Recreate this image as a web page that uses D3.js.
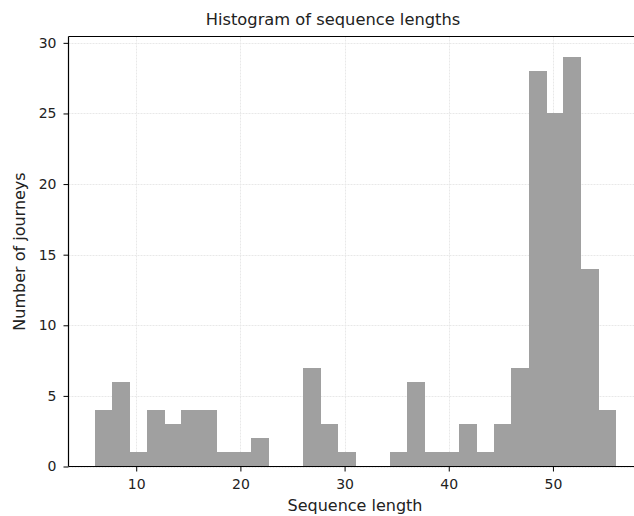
<!DOCTYPE html>
<html>
<head>
<meta charset="utf-8">
<script src="https://cdn.jsdelivr.net/npm/d3@7"></script>
<style>
  body { margin: 0; background: #fff; }
  text { font-family: "DejaVu Sans", sans-serif; fill: #222; }
</style>
</head>
<body>
<svg id="chart" width="634" height="516"></svg>
<script>
// histogram counts, 30 equal bins from binStart to binEnd
var binStart = 6;
var binEnd = 56;
var counts = [4, 6, 1, 4, 3, 4, 4, 1, 1, 2, 0, 0, 7, 3, 1, 0, 0, 1, 6, 1, 1, 3, 1, 3, 7, 28, 25, 29, 14, 4];
var xTicks = [10, 20, 30, 40, 50];
var yTicks = [0, 5, 10, 15, 20, 25, 30];

var svg = d3.select('#chart');

// axes box (right side runs past the picture edge, as in the source)
var plotLeft = 68.5, plotTop = 36.5, plotBottom = 466.5, plotRight = 641.5;

var binW = (binEnd - binStart) / counts.length;
var bins = counts.map(function(c, i) {
    return { x0: binStart + i * binW, x1: binStart + (i + 1) * binW, n: c };
});

var pad = (binEnd - binStart) * 0.05;
var x = d3.scaleLinear()
    .domain([binStart - pad, binEnd + pad])
    .range([plotLeft, plotRight]);

var yMax = d3.max(counts) * 1.05;
var y = d3.scaleLinear()
    .domain([0, yMax])
    .range([plotBottom, plotTop]);

// grid
var grid = svg.append('g').attr('class', 'grid');
grid.selectAll('line.gx')
    .data(xTicks)
    .enter().append('line')
    .attr('x1', function(d) { return Math.round(x(d)) + 0.5; })
    .attr('x2', function(d) { return Math.round(x(d)) + 0.5; })
    .attr('y1', plotTop)
    .attr('y2', plotBottom)
    .attr('stroke', '#e8e8e8')
    .attr('stroke-dasharray', '2,1');

grid.selectAll('line.gy')
    .data(yTicks)
    .enter().append('line')
    .attr('y1', function(d) { return Math.round(y(d)) + 0.5; })
    .attr('y2', function(d) { return Math.round(y(d)) + 0.5; })
    .attr('x1', plotLeft)
    .attr('x2', plotRight)
    .attr('stroke', '#e8e8e8')
    .attr('stroke-dasharray', '2,1');

// bars
svg.append('g')
    .attr('shape-rendering', 'crispEdges')
    .selectAll('rect')
    .data(bins.filter(function(b) { return b.n > 0; }))
    .enter().append('rect')
    .attr('x', function(d) { return x(d.x0); })
    .attr('width', function(d) { return x(d.x1) - x(d.x0) + 0.5; })
    .attr('y', function(d) { return y(d.n); })
    .attr('height', function(d) { return y(0) - y(d.n); })
    .attr('fill', '#a0a0a0');

// axes
var xAxis = svg.append('g')
    .attr('transform', 'translate(0,' + plotBottom + ')')
    .call(d3.axisBottom(x).tickValues(xTicks).tickSize(5).tickPadding(8).tickFormat(d3.format('d')));

var yAxis = svg.append('g')
    .attr('transform', 'translate(' + plotLeft + ',0)')
    .call(d3.axisLeft(y).tickValues(yTicks).tickSize(5).tickPadding(7).tickFormat(d3.format('d')));

[xAxis, yAxis].forEach(function(a) {
    a.select('.domain').remove();
    a.selectAll('text').attr('font-size', 14).attr('fill', '#222')
        .attr('font-family', '"DejaVu Sans", sans-serif');
    a.selectAll('line').attr('stroke', '#000');
});

// spines: left, top, bottom
svg.append('line').attr('x1', plotLeft).attr('x2', plotLeft).attr('y1', plotTop).attr('y2', plotBottom)
    .attr('stroke', '#000').attr('stroke-width', 1.2);
svg.append('line').attr('x1', plotLeft).attr('x2', plotRight).attr('y1', plotTop).attr('y2', plotTop)
    .attr('stroke', '#000').attr('stroke-width', 1.2);
svg.append('line').attr('x1', plotLeft).attr('x2', plotRight).attr('y1', plotBottom).attr('y2', plotBottom)
    .attr('stroke', '#000').attr('stroke-width', 1.2);

// labels
svg.append('text')
    .attr('x', 333)
    .attr('y', 25)
    .attr('text-anchor', 'middle')
    .attr('font-size', 16.3)
    .text('Histogram of sequence lengths');

svg.append('text')
    .attr('x', (plotLeft + plotRight) / 2)
    .attr('y', 511)
    .attr('text-anchor', 'middle')
    .attr('font-size', 16)
    .text('Sequence length');

svg.append('text')
    .attr('transform', 'translate(25,' + ((plotTop + plotBottom) / 2) + ') rotate(-90)')
    .attr('text-anchor', 'middle')
    .attr('font-size', 16)
    .text('Number of journeys');
</script>
</body>
</html>
